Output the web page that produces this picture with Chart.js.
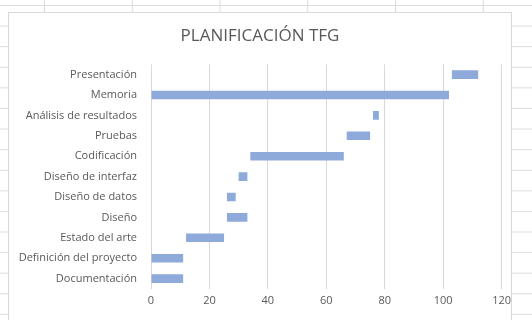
<!DOCTYPE html>
<html>
<head>
<meta charset="utf-8">
<script src="https://cdn.jsdelivr.net/npm/chart.js@4"></script>
<style>
  html, body { margin: 0; padding: 0; }
  body {
    width: 532px; height: 320px; overflow: hidden; position: relative;
    background-color: #fff;
    background-image:
      linear-gradient(to right, #dcdcdc 1px, transparent 1px),
      linear-gradient(to bottom, #dcdcdc 1px, transparent 1px);
    background-size: 87.75px 20.6px;
    background-position: 44px 5px;
  }
  #box {
    position: absolute; left: 8px; top: 12px; width: 504px; height: 320px;
    background: #fff; border: 1px solid #d9d9d9; box-sizing: border-box;
  }
  #wrap {
    position: absolute; left: 4px; top: 13px; width: 512px; height: 318px;
  }
</style>
</head>
<body>
<div id="box"></div>
<div id="wrap"><canvas id="chart"></canvas></div>
<script>
// tareas, de abajo hacia arriba como en la hoja
const tareas = ['Documentación', 'Definición del proyecto', 'Estado del arte', 'Diseño',
  'Diseño de datos', 'Diseño de interfaz', 'Codificación', 'Pruebas',
  'Análisis de resultados', 'Memoria', 'Presentación'];
const inicio = [0, 0, 12, 26, 26, 30, 34, 67, 76, 0, 103];
const fin = [11, 11, 25, 33, 29, 33, 66, 75, 78, 102, 112];
const ticksX = [0, 20, 40, 60, 80, 100, 120];

const rangos = tareas.map((t, i) => [inicio[i], fin[i]]);
const gris = '#595959';
const fuente = "'Open Sans', sans-serif";

const ctx = document.getElementById('chart').getContext('2d');
new Chart(ctx, {
    type: 'bar',
    data: {
        labels: tareas,
        datasets: [{
            data: rangos,
            backgroundColor: '#8eaadb',
            barPercentage: 0.42,
            categoryPercentage: 1
        }]
    },
    options: {
        indexAxis: 'y',
        responsive: true,
        maintainAspectRatio: false,
        animation: false,
        layout: { padding: { left: 0, right: 0, top: 0, bottom: 19 } },
        plugins: {
            legend: { display: false },
            tooltip: { enabled: false },
            title: {
                display: true,
                text: 'PLANIFICACIÓN TFG',
                color: gris,
                font: { family: fuente, size: 17, weight: 'normal' },
                padding: { top: 13, bottom: 18 }
            }
        },
        scales: {
            x: {
                min: ticksX[0],
                max: ticksX[ticksX.length - 1],
                afterBuildTicks: s => { s.ticks = ticksX.map(v => ({ value: v })); },
                grid: { color: '#d9d9d9', drawTicks: false },
                border: { display: false },
                ticks: { color: gris, font: { family: fuente, size: 11 }, padding: 5 }
            },
            y: {
                reverse: true,
                afterFit: s => { s.width = 147; },
                grid: { display: false },
                border: { display: false },
                ticks: { color: gris, font: { family: fuente, size: 11 }, padding: 6 }
            }
        }
    }
});
</script>
</body>
</html>
